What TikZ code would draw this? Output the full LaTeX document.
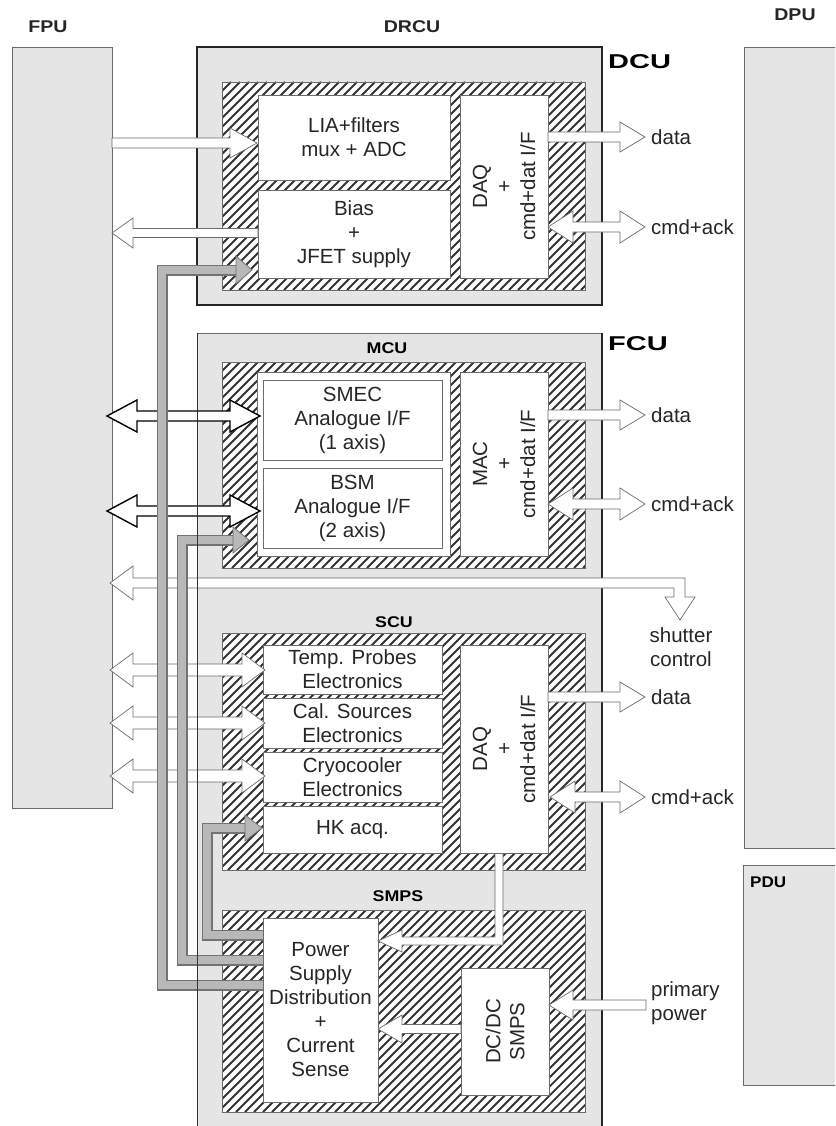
\documentclass[tikz,border=0pt]{standalone}
\usepackage{fontspec}
\setmainfont{Liberation Sans}
\definecolor{panelgray}{gray}{0.9}
\definecolor{edgegray}{gray}{0.42}
\definecolor{powerfill}{gray}{0.72}
\definecolor{poweredge}{gray}{0.45}
\definecolor{txt}{gray}{0.15}
\newcommand\bodyfont{\fontsize{20.5}{24}\selectfont}
% single block arrow: [style] tail-x, tip-x, y, shaft half, head half, head length
\newcommand\myharr[7][]{%
  \pgfmathsetmacro\myhb{#3>#2 ? #3-#7 : #3+#7}%
  \draw[#1] (#2,{#4-#5}) -- (\myhb,{#4-#5}) -- (\myhb,{#4-#6}) -- (#3,#4)
    -- (\myhb,{#4+#6}) -- (\myhb,{#4+#5}) -- (#2,{#4+#5}) -- cycle;}
% double block arrow: [style] left tip, right tip, y, shaft half, head half, head length
\newcommand\mydarr[7][]{%
  \draw[#1] (#2,#4) -- ({#2+#7},{#4-#6}) -- ({#2+#7},{#4-#5}) -- ({#3-#7},{#4-#5})
    -- ({#3-#7},{#4-#6}) -- (#3,#4) -- ({#3-#7},{#4+#6}) -- ({#3-#7},{#4+#5})
    -- ({#2+#7},{#4+#5}) -- ({#2+#7},{#4+#6}) -- cycle;}
\newcommand\mypower[1]{%
  \draw[line width=11pt, poweredge, line join=miter] #1;
  \draw[line width=8.6pt, powerfill, line join=miter] #1;}
% hatched zone: x1 y1 x2 y2 (y downward)
\newcommand\myhatch[4]{%
  \fill[white] (#1,#2) rectangle (#3,#4);
  \begin{scope}
    \clip (#1,#2) rectangle (#3,#4);
    \pgfmathtruncatemacro\myhs{#1-(#4-#2)-9}%
    \pgfmathtruncatemacro\myhn{\myhs+9}%
    \pgfmathtruncatemacro\myhh{#4-#2}%
    \foreach \myhx in {\myhs,\myhn,...,#3}
      \draw[black!80,line width=1.8pt]
        (\myhx,#4) -- ({\myhx+\myhh},#2);
  \end{scope}
  \draw[edgegray,line width=0.5pt] (#1,#2) rectangle (#3,#4);}
\begin{document}
\begin{tikzpicture}[x=1pt,y=-1pt,
  unitbox/.style={draw=edgegray,line width=0.6pt,fill=panelgray},
  whitebox/.style={draw=edgegray,line width=0.8pt,fill=white,align=center,inner sep=0pt,font=\bodyfont,text=txt},
  vbox/.style={whitebox,rotate=90},
  hollow/.style={fill=white,draw=edgegray,line width=0.7pt,line join=miter},
  heavy/.style={fill=white,draw=black,line width=1.4pt,line join=miter},
  powerhead/.style={fill=powerfill,draw=poweredge,line width=0.8pt},
  hdr/.style={font=\bfseries\fontsize{17}{20}\selectfont,text=txt},
  biglbl/.style={font=\bfseries\fontsize{20}{24}\selectfont,anchor=west,inner sep=0pt},
  sublbl/.style={font=\bfseries\fontsize{15.5}{18}\selectfont,inner sep=0pt},
  sidelbl/.style={font=\bodyfont,text=txt,align=left,anchor=west,inner sep=0pt}]
\useasboundingbox (0,0) rectangle (835,1126);
\clip (0,0) rectangle (835,1126);

% header labels
\node[hdr] (fpulbl) at (48,27) {\scalebox{1.15}[1]{FPU}};
\node[hdr] (drculbl) at (412,27) {\scalebox{1.15}[1]{DRCU}};
\node[hdr] (dpulbl) at (795,15) {\scalebox{1.15}[1]{DPU}};

% external units
\path[unitbox] (12,47) rectangle (112,808);
\path[unitbox] (744,47) rectangle (850,848);
\path[unitbox] (743,865) rectangle (850,1085);
\node[sublbl,anchor=west] (pdulbl) at (750,882) {\scalebox{1.1}[1]{PDU}};

% DCU
\path[fill=panelgray,draw=black!85,line width=1.8pt] (197,47) rectangle (602,305);
\node[biglbl] (dculbl) at (608,62) {\scalebox{1.45}[1]{DCU}};
\myhatch{222}{82}{585}{290}
\node[whitebox,minimum width=192,minimum height=85] (lia) at (354,137.5) {LIA+filters\\mux + ADC};
\node[whitebox,minimum width=192,minimum height=88] (bias) at (354,234) {Bias\\+\\JFET supply};
\node[vbox,minimum width=183,minimum height=88] (daq1) at (504,186.5) {DAQ\\+\\cmd+dat I/F};

% FCU
\path[fill=panelgray,draw=edgegray,line width=0.6pt] (197,333) rectangle (602,1140);
\draw[black!85,line width=1.8pt] (602,333) -- (602,1126);
\node[biglbl] (fculbl) at (608,344) {\scalebox{1.45}[1]{FCU}};

% MCU
\node[sublbl] (mculbl) at (387,348) {\scalebox{1.15}[1]{MCU}};
\myhatch{222}{362}{585}{568}
\node[draw=edgegray,line width=0.6pt,fill=white,minimum width=193,minimum height=184,inner sep=0pt] (mcupanel) at (353.5,464) {};
\node[whitebox,minimum width=179,minimum height=80] (smec) at (352.5,420) {SMEC\\Analogue I/F\\(1 axis)};
\node[whitebox,minimum width=179,minimum height=80] (bsm) at (352.5,508) {BSM\\Analogue I/F\\(2 axis)};
\node[vbox,minimum width=184,minimum height=88] (mac) at (504,464) {MAC\\+\\cmd+dat I/F};

% SCU
\node[sublbl] (sculbl) at (394,622) {\scalebox{1.15}[1]{SCU}};
\myhatch{222}{633}{585}{870}
\node[whitebox,minimum width=179,minimum height=49] (temp) at (352.5,669.5) {Temp. Probes\\Electronics};
\node[whitebox,minimum width=179,minimum height=50] (cal) at (352.5,723) {Cal. Sources\\Electronics};
\node[whitebox,minimum width=179,minimum height=50] (cryo) at (352.5,777) {Cryocooler\\Electronics};
\node[whitebox,minimum width=179,minimum height=47] (hk) at (352.5,829.5) {HK acq.};
\node[vbox,minimum width=208,minimum height=88] (daq2) at (504,749) {DAQ\\+\\cmd+dat I/F};

% SMPS
\node[sublbl] (smpslbl) at (398,896) {\scalebox{1.15}[1]{SMPS}};
\myhatch{222}{910}{585}{1112}
\node[whitebox,minimum width=115,minimum height=184] (psd) at (320.5,1010) {Power\\Supply\\Distribution\\+\\Current\\Sense};
\node[vbox,minimum width=127,minimum height=88] (dcdc) at (505,1031.5) {DC/DC\\SMPS};

% DCU arrows
\myharr[hollow]{112}{257}{143}{5}{15}{27}
\myharr[hollow]{258}{112}{233}{4.5}{15}{21}
\myharr[hollow]{548}{645}{137}{5}{15}{25}
\mydarr[hollow]{548}{645}{227}{5}{16}{25}
\node[sidelbl] (data1) at (651,137) {data};
\node[sidelbl] (ack1) at (651,227) {cmd+ack};

% MCU arrows
\mydarr[heavy]{107}{260}{416}{5}{16}{30}
\mydarr[heavy]{107}{260}{511}{5}{16}{30}
\myharr[hollow]{548}{645}{415}{5}{15}{25}
\mydarr[hollow]{548}{645}{504}{5}{16}{25}
\node[sidelbl] (data2) at (651,415) {data};
\node[sidelbl] (ack2) at (651,504) {cmd+ack};

% shutter control
\draw[hollow] (110,583) -- (133,566) -- (133,578) -- (685,578) -- (685,597) -- (695,597)
  -- (680,620) -- (665,597) -- (674,597) -- (674,588) -- (133,588) -- (133,600) -- cycle;
\node[font=\bodyfont,text=txt,align=center,inner sep=0pt] (shut) at (681,647) {shutter\\control};

% SCU arrows
\mydarr[hollow]{110}{265}{670}{6}{17}{23}
\mydarr[hollow]{110}{265}{723}{6}{17}{23}
\mydarr[hollow]{110}{265}{776}{6}{17}{23}
\myharr[hollow]{548}{645}{697}{5}{15}{25}
\mydarr[hollow]{550}{645}{797}{5}{16}{25}
\node[sidelbl] (data3) at (651,697) {data};
\node[sidelbl] (ack3) at (651,797) {cmd+ack};

% SMPS arrows
\draw[hollow] (495,853.5) -- (503,853.5) -- (503,945) -- (402,945) -- (402,952) -- (378,941)
  -- (402,930) -- (402,937) -- (495,937) -- cycle;
\myharr[hollow]{461}{378}{1029}{4.5}{14}{24}
\myharr[hollow]{646}{549}{1005}{5}{15}{24}
\node[sidelbl] (prim) at (651,1003) {primary\\power};

% power distribution lines
\mypower{(263,985) -- (162,985) -- (162,270) -- (237,270)}
\draw[powerhead] (236,256) -- (252,270) -- (236,284) -- cycle;
\mypower{(263,960) -- (182,960) -- (182,540) -- (234,540)}
\draw[powerhead] (233,527) -- (249,540) -- (233,553) -- cycle;
\mypower{(263,935) -- (207,935) -- (207,828) -- (246,828)}
\draw[powerhead] (245,815) -- (262,828) -- (245,841) -- cycle;

% FCU left border on top
\draw[black!80,line width=0.8pt] (197,333) -- (197,1126);
\end{tikzpicture}
\end{document}
